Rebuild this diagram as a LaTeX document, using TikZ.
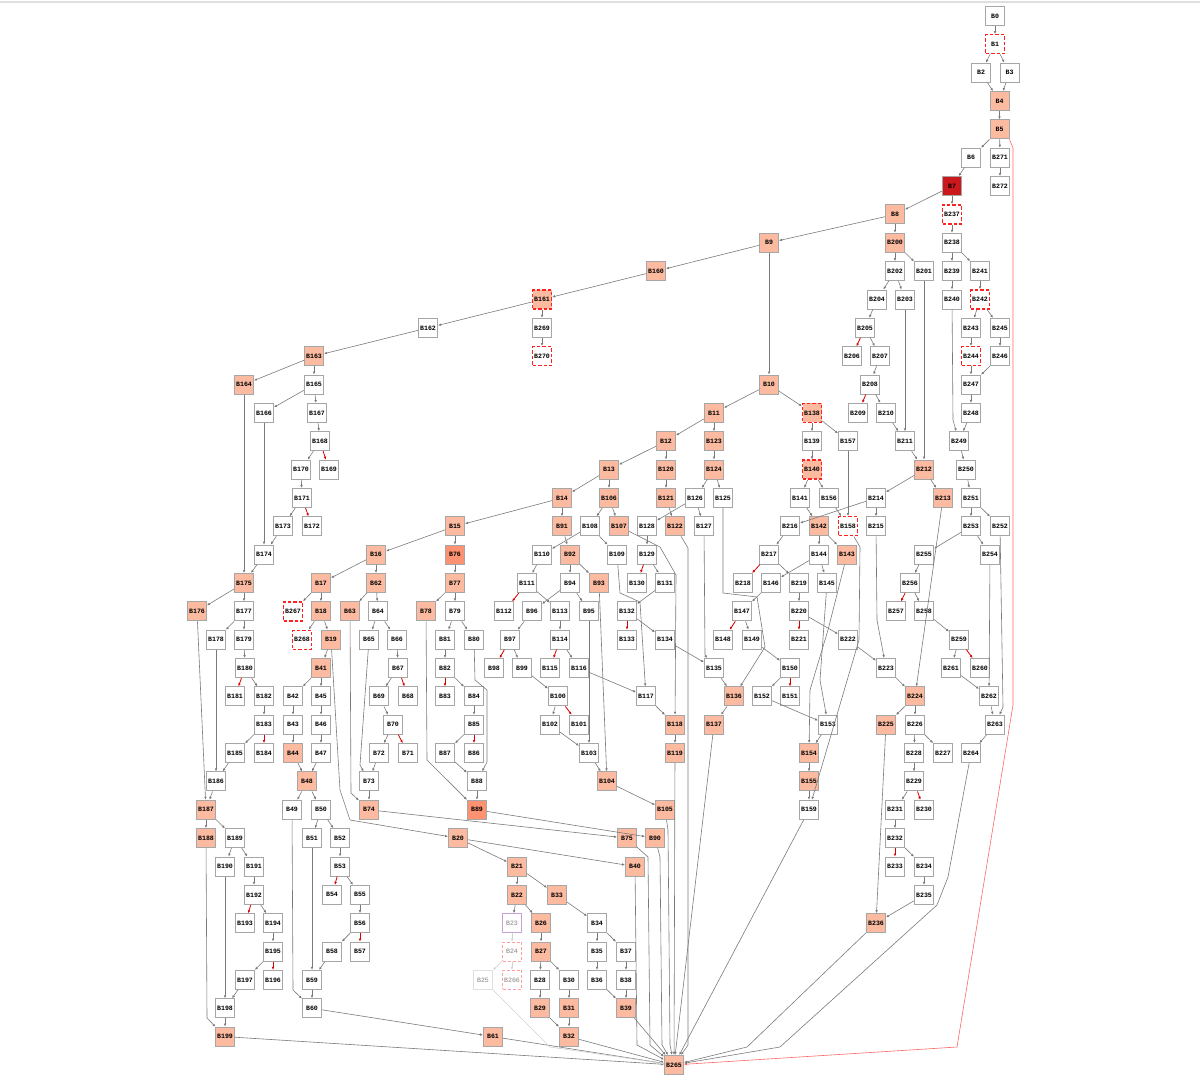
\documentclass[tikz,border=0pt]{standalone}
\usepackage{fontspec}
\newfontfamily\blkfont{Liberation Mono}
\usepackage{tikz}
\usetikzlibrary{arrows.meta}
\usepackage{xcolor}
\definecolor{hotfill}{HTML}{FCBBA1}
\definecolor{hotterfill}{HTML}{FC9272}
\definecolor{hottestfill}{HTML}{CB181D}
\definecolor{edgegray}{HTML}{7A7A7A}
\definecolor{deadline}{HTML}{FF2020}
\definecolor{purpleline}{HTML}{C6A2DA}
\definecolor{pinkline}{HTML}{FF9C9C}

\tikzset{
  blk/.style={draw=gray!70, line width=1pt, fill=white, minimum width=19pt, minimum height=19pt,
    inner sep=0pt, font=\blkfont\bfseries\fontsize{6.6}{7}\selectfont},
  hot/.style={blk, fill=hotfill},
  hotter/.style={blk, fill=hotterfill},
  hottest/.style={blk, fill=hottestfill},
  dead/.style={blk, draw=deadline, line width=1.3pt, dash pattern=on 3.5pt off 2pt},
  deadhot/.style={dead, fill=hotfill},
  purplebox/.style={blk, draw=purpleline, text=gray, font=\blkfont\fontsize{6.6}{7}\selectfont},
  pinkbox/.style={purplebox, draw=pinkline, dash pattern=on 3pt off 2pt},
  faintbox/.style={purplebox, draw=gray!25},
  flow/.style={-{Latex[length=3pt,width=2.6pt]}, draw=edgegray, line width=0.6pt},
  bad/.style={flow, draw=red!85!black, line width=0.8pt},
  ghost/.style={flow, draw=gray!35},
}

\begin{document}
\begin{tikzpicture}[x=1pt, y=-1pt]
  \useasboundingbox (0,0) rectangle (1200,1089);
  \draw[gray!25, line width=1.2pt] (0,2) -- (1200,2);

  \foreach \n/\x/\k in {0/995/0, 2/981/2, 3/1009.5/2, 6/971/5, 271/1000/5, 272/1000/6, 238/952/8,
      202/895/9, 201/924/9, 239/952/9, 241/980/9, 204/877/10, 203/905/10, 240/952/10, 162/428/11,
      269/542/11, 205/865/11, 243/971/11, 245/1000/11, 206/852/12, 207/880/12, 246/1000/12,
      165/314/13, 208/870/13, 247/971/13, 166/264/14, 167/317/14, 209/858/14, 210/886/14, 248/971/14,
      168/320/15, 139/812/15, 157/848/15, 211/905/15, 249/959/15, 170/301/16, 169/329/16, 250/966/16,
      171/302/17, 126/695/17, 125/723/17, 141/800/17, 156/829/17, 214/876/17, 251/971/17,
      173/283/18, 172/312/18, 108/590/18, 128/647/18, 127/704/18, 216/790/18, 215/876/18,
      253/971/18, 252/1000/18, 174/264/19, 110/542/19, 109/617/19, 129/647/19, 217/769/19,
      144/819/19, 255/924/19, 254/990/19, 111/527/20, 94/570/20, 130/637/20, 131/665/20,
      218/743/20, 146/771/20, 219/799/20, 145/827/20, 256/910/20, 177/244/21, 64/378/21, 79/455/21,
      112/504/21, 96/532/21, 113/560/21, 95/589/21, 132/627/21, 147/742/21, 220/799/21, 257/896/21,
      258/924/21, 178/216/22, 179/244/22, 65/369/22, 66/397/22, 81/445/22, 80/474/22, 97/510/22,
      114/560/22, 133/627/22, 134/665/22, 148/723/22, 149/752/22, 221/799/22, 222/848/22,
      259/959/22, 180/245/23, 67/398/23, 82/445/23, 98/494/23, 99/522/23, 115/550/23, 116/579/23,
      135/714/23, 150/790/23, 223/886/23, 261/951/23, 260/980/23, 181/235/24, 182/264/24,
      42/293/24, 45/321/24, 69/379/24, 68/408/24, 83/445/24, 84/474/24, 100/558/24, 117/646/24,
      152/762/24, 151/790/24, 262/989/24, 183/264/25, 43/293/25, 46/321/25, 70/393/25, 85/474/25,
      102/550/25, 101/579/25, 153/828/25, 226/915/25, 263/995/25, 185/235/26, 184/264/26,
      47/321/26, 72/379/26, 71/408/26, 87/445/26, 86/474/26, 103/589/26, 228/914/26, 227/943/26,
      264/971/26, 186/216/27, 73/369/27, 88/477/27, 229/914/27, 49/292/28, 50/321/28, 159/809/28,
      231/895/28, 230/924/28, 189/235/29, 51/312/29, 52/340/29, 232/895/29, 190/225/30,
      191/254/30, 53/340/30, 233/895/30, 234/924/30, 192/254/31, 54/332/31, 55/360/31, 235/924/31,
      193/245/32, 194/273/32, 56/360/32, 34/597/32, 195/273/33, 58/332/33, 57/360/33, 35/597/33,
      37/626/33, 197/245/34, 196/273/34, 59/312/34, 28/540/34, 30/569/34, 36/597/34, 38/626/34,
      198/225/35, 60/312/35}
    \node[blk] (b\n) at (\x,{16+28.35*\k}) {B\n};

  \foreach \n/\x/\k in {4/999.5/3, 5/999.5/4, 8/895/7, 9/769/8, 200/895/8, 160/656/9, 163/314/12,
      164/244/13, 10/769/13, 11/714/14, 12/666/15, 123/714/15, 13/609/16, 120/666/16, 124/714/16,
      212/924/16, 14/562/17, 106/609/17, 121/666/17, 213/943/17, 15/455/18, 91/562/18, 107/619/18,
      122/675/18, 142/819/18, 16/376/19, 92/570/19, 143/847/19, 175/244/20, 17/321/20, 62/376/20,
      77/455/20, 93/599/20, 176/197/21, 18/321/21, 63/350/21, 78/426/21, 19/331/22, 41/321/23,
      136/734/24, 224/915/24, 118/675/25, 137/714/25, 225/886/25, 44/293/26, 119/675/26,
      154/809/26, 48/307/27, 104/607/27, 155/809/27, 187/206/28, 74/369/28, 105/665/28,
      188/206/29, 20/458/29, 75/627/29, 90/655/29, 21/517/30, 40/635/30, 22/517/31, 33/557/31,
      26/541/32, 236/876/32, 27/541/33, 29/540/35, 31/569/35, 39/626/35, 199/225/36, 61/493/36,
      32/569/36, 265/674/37}
    \node[hot] (b\n) at (\x,{16+28.35*\k}) {B\n};

  \foreach \n/\x/\k in {76/455/19, 89/477/28}
    \node[hotter] (b\n) at (\x,{16+28.35*\k}) {B\n};
  \node[hottest] (b7) at (952,{16+28.35*6}) {B7};
  \foreach \n/\x/\k in {1/995/1, 237/952/7, 242/980/10, 270/542/12, 244/971/12, 158/848/18,
      267/293/21, 268/302/22}
    \node[dead] (b\n) at (\x,{16+28.35*\k}) {B\n};
  \foreach \n/\x/\k in {161/542/10, 138/812/14, 140/812/16}
    \node[deadhot] (b\n) at (\x,{16+28.35*\k}) {B\n};
  \node[purplebox] (b23) at (512,{16+28.35*32}) {B23};
  \node[pinkbox] (b24) at (512,{16+28.35*33}) {B24};
  \node[pinkbox] (b266) at (512,{16+28.35*34}) {B266};
  \node[faintbox] (b25) at (483,{16+28.35*34}) {B25};

  \foreach \a/\b in {0/1, 1/2, 1/3, 2/4, 3/4, 4/5, 5/6, 5/271, 271/272, 6/7, 7/8, 7/237, 8/9, 8/200,
      237/238, 9/160, 9/10, 200/202, 200/201, 238/239, 238/241, 160/161, 161/162, 161/269, 269/270,
      162/163, 163/164, 163/165, 165/166, 165/167, 167/168, 168/170, 170/171, 171/173, 173/174,
      166/174, 164/175, 174/175, 175/176, 175/177, 177/178, 177/179, 179/180, 180/182, 182/183,
      183/185, 185/186, 178/186, 176/187, 186/187, 187/188, 187/189, 189/190, 189/191, 191/192,
      192/194, 194/195, 195/197, 197/198, 190/198, 198/199, 199/265,
      10/11, 10/138, 11/12, 11/123, 12/13, 12/120, 123/124, 13/14, 13/106, 120/121, 124/126, 124/125,
      14/15, 14/91, 106/108, 106/107, 121/122, 126/128, 126/127, 128/129, 108/110, 108/109, 91/92,
      15/16, 15/76, 16/17, 16/62, 76/77, 17/267, 17/18, 18/268, 18/19, 62/63, 62/64, 77/78, 77/79,
      19/41, 64/65, 64/66, 66/67, 67/69, 69/70, 70/72, 72/73, 73/74, 41/42, 41/45, 42/43, 43/44,
      45/46, 46/47, 44/48, 47/48, 48/49, 48/50, 50/51, 50/52, 52/53, 53/55, 55/56, 56/58, 58/59,
      51/59, 59/60, 60/61, 61/265, 79/81, 79/80, 81/82, 82/84, 84/85, 85/87, 87/88, 88/89, 89/90,
      74/75, 92/94, 92/93, 110/111, 111/113, 94/96, 94/95, 96/97, 97/99, 99/100, 100/102, 113/114,
      114/116, 116/117, 102/103, 103/104, 93/104, 104/105, 95/103, 129/131, 131/132, 132/134,
      134/135, 117/118, 118/119, 119/265, 135/136, 136/137, 137/265,
      138/139, 138/157, 139/140, 140/141, 140/156, 141/142, 156/158, 157/158, 142/144, 142/143,
      216/217, 214/216, 214/215, 212/214, 212/213, 211/212, 201/212, 202/204, 202/203, 203/211,
      204/205, 205/207, 207/208, 208/210, 210/211, 239/240, 241/242, 242/243, 242/245, 243/244,
      245/246, 244/247, 246/247, 247/248, 248/249, 249/250, 250/251, 251/253, 251/252, 253/255,
      253/254, 255/256, 256/258, 258/259, 259/261, 261/262, 254/262, 262/263, 263/264, 222/223,
      223/224, 213/224, 224/225, 224/226, 226/228, 226/227, 228/229, 229/231, 231/232, 232/234,
      234/235, 235/236, 225/236, 217/219, 144/146, 144/145, 146/147, 147/149, 149/150, 150/152,
      152/153, 153/154, 154/155, 155/159, 219/220, 220/222,
      20/21, 20/40, 21/22, 21/33, 22/23, 22/26, 26/27, 27/28, 27/30, 28/29, 30/31, 29/32, 31/32,
      32/265, 33/34, 34/35, 34/37, 35/36, 37/38, 36/39, 38/39, 39/265, 159/265}
    \draw[flow] (b\a) -- (b\b);

  \foreach \a/\b in {168/169, 171/172, 180/181, 183/184, 192/193, 195/196, 205/206, 208/209,
      53/54, 56/57, 67/68, 70/71, 82/83, 85/86, 111/112, 97/98, 114/115, 100/101, 129/130,
      132/133, 147/148, 150/151, 217/218, 220/221, 256/257, 259/260, 229/230, 232/233}
    \draw[bad] (b\a) -- (b\b);

  \draw[ghost] (b23) -- (b24);
  \draw[ghost] (b24) -- (b25);
  \draw[ghost] (b24) -- (b266);
  \draw[ghost] (b25) -- (550,1047) -- (b265);

  \draw[flow, draw=red!60] (b5.south east) -- (1013,148) -- (1013,705) -- (957,1047) -- (b265);
  \draw[flow] (b188) -- (207,1018) -- (b199);
  \draw[flow] (b49) -- (293,990) -- (b60);
  \draw[flow] (b63) -- (351,793) -- (b74);
  \draw[flow] (b65) -- (360,765) -- (b73);
  \draw[flow] (b19) -- (340,790) -- (350,820) -- (b20);
  \draw[flow] (b78) -- (427,760) -- (b89);
  \draw[flow] (b80) -- (475,680) -- (487,690) -- (487,762) -- (b88);
  \draw[flow] (b109) -- (620,593) -- (640,602) -- (b117);
  \draw[flow] (b107) -- (660,547) -- (676,575) -- (b118);
  \draw[flow] (b122) -- (688,548) -- (688,1045) -- (b265);
  \draw[flow] (b125) -- (723,593) -- (757,597) -- (765,647) -- (b136);
  \draw[flow] (b127) -- (705,655) -- (b135);
  \draw[flow] (b75) -- (648,857) -- (650,1045) -- (b265);
  \draw[flow] (b90) -- (660,857) -- (662,1045) -- (b265);
  \draw[flow] (b105) -- (668,830) -- (670,1045) -- (b265);
  \draw[flow] (b40) -- (637,1045) -- (b265);
  \draw[flow] (b236) -- (747,1047) -- (b265);
  \draw[flow] (b264) -- (948,877) -- (937,905) -- (780,1047) -- (b265);
  \draw[flow] (b215) -- (877,620) -- (b223);
  \draw[flow] (b252) -- (1003,707) -- (b263);
  \draw[flow] (b240) -- (953,420) -- (b249);
  \draw[flow] (b143) -- (828,630) -- (810,690) -- (b154);
  \draw[flow] (b145) -- (820,680) -- (b153);
  \draw[flow] (b158) -- (860,547) -- (859,640) -- (b159);
\end{tikzpicture}
\end{document}
